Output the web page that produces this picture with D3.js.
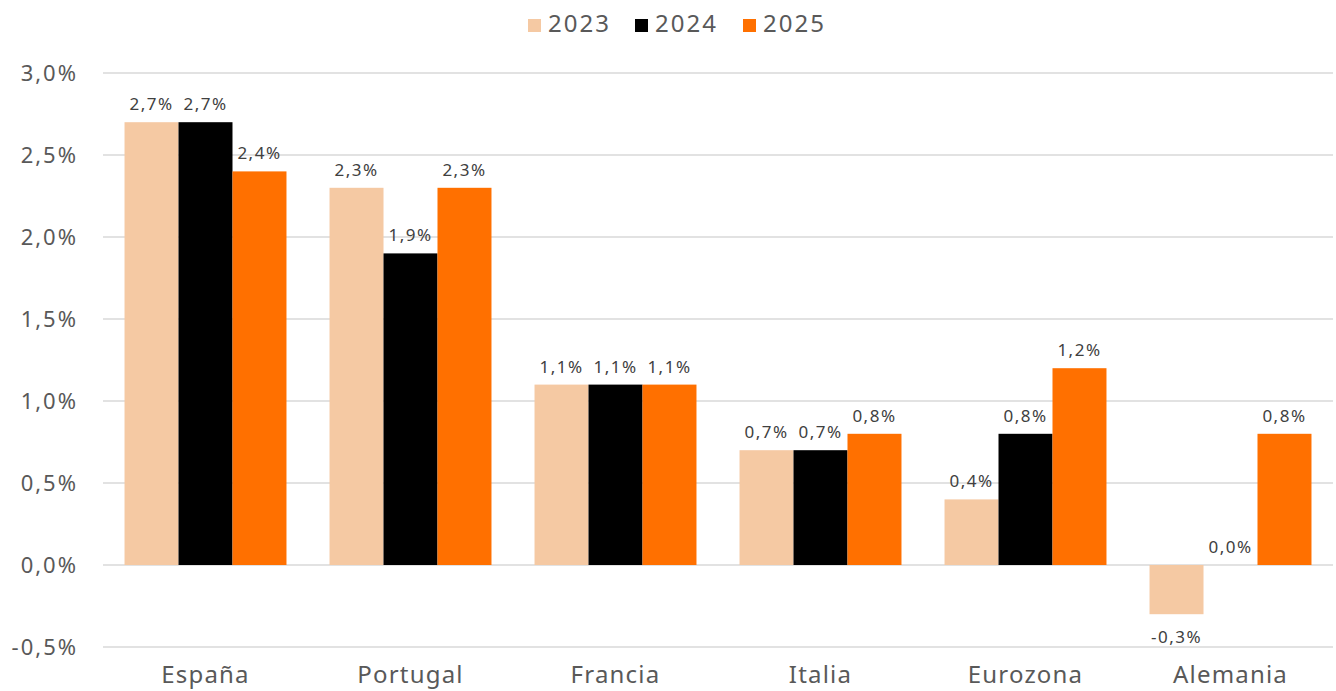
<!DOCTYPE html>
<html>
<head>
<meta charset="utf-8">
<script src="https://cdn.jsdelivr.net/npm/d3@7"></script>
<style>
  body { margin: 0; background: #fff; }
  text { font-family: "Noto Sans", sans-serif; }
</style>
</head>
<body>
<div id="container"></div>
<script>
// data
var countries = ["España", "Portugal", "Francia", "Italia", "Eurozona", "Alemania"];
var years = ["2023", "2024", "2025"];
var values2023 = [2.7, 2.3, 1.1, 0.7, 0.4, -0.3];
var values2024 = [2.7, 1.9, 1.1, 0.7, 0.8, 0.0];
var values2025 = [2.4, 2.3, 1.1, 0.8, 1.2, 0.8];
var yTicks = [-0.5, 0, 0.5, 1, 1.5, 2, 2.5, 3];
var colors = ["#F5C9A3", "#000000", "#FF7000"];

var w = 1336, h = 691;
var plotLeft = 103, plotRight = 1333, plotTop = 73, plotBottom = 647;

var svg = d3.select("#container").append("svg")
  .attr("width", w).attr("height", h);

var series = [values2023, values2024, values2025];

var yScale = d3.scaleLinear().domain([-0.5, 3]).range([plotBottom, plotTop]);
var x0 = d3.scaleBand().domain(countries).range([plotLeft, plotRight]).paddingInner(0.21).paddingOuter(0.105);
var x1 = d3.scaleBand().domain(years).range([0, x0.bandwidth()]);

// spanish style: comma decimal, plain hyphen for minus
var fmt = d3.formatLocale({decimal: ",", thousands: ".", grouping: [3], currency: ["", "€"], minus: "-"}).format(".1f");
function pct(v) {
  return fmt(v) + "%";
}

// gridlines
svg.append("g").selectAll("line")
  .data(yTicks).enter().append("line")
  .attr("x1", plotLeft).attr("x2", plotRight)
  .attr("y1", function(d) { return yScale(d); })
  .attr("y2", function(d) { return yScale(d); })
  .attr("stroke", "#D9D9D9").attr("stroke-width", 1.5);

// y tick labels
svg.append("g").selectAll("text")
  .data(yTicks).enter().append("text")
  .attr("x", 78)
  .attr("y", function(d) { return yScale(d) + 8; })
  .attr("text-anchor", "end")
  .attr("font-size", "22px")
  .attr("letter-spacing", "2px")
  .attr("fill", "#595959")
  .text(pct);

// bars
var groups = svg.append("g").selectAll("g")
  .data(countries).enter().append("g")
  .attr("transform", function(d) { return "translate(" + x0(d) + ",0)"; });

function rows(d, i) {
  return years.map(function(y, j) { return {year: y, v: series[j][i], j: j}; });
}

groups.selectAll("rect")
  .data(rows)
  .enter().append("rect")
  .attr("x", function(d) { return x1(d.year); })
  .attr("width", x1.bandwidth())
  .attr("y", function(d) { return yScale(Math.max(0, d.v)); })
  .attr("height", function(d) { return Math.abs(yScale(d.v) - yScale(0)); })
  .attr("fill", function(d) { return colors[d.j]; });

groups.selectAll("text")
  .data(rows)
  .enter().append("text")
  .attr("x", function(d) { return x1(d.year) + x1.bandwidth() / 2; })
  .attr("y", function(d) { return d.v < 0 ? yScale(d.v) + 29 : yScale(d.v) - 12; })
  .attr("text-anchor", "middle")
  .attr("font-size", "17px")
  .attr("letter-spacing", "1.5px")
  .attr("fill", "#404040")
  .text(function(d) { return pct(d.v); });

// category labels
svg.append("g").selectAll("text")
  .data(countries).enter().append("text")
  .attr("x", function(d) { return x0(d) + x0.bandwidth() / 2; })
  .attr("y", 683)
  .attr("text-anchor", "middle")
  .attr("font-size", "24px")
  .attr("letter-spacing", "1.2px")
  .attr("fill", "#595959")
  .text(function(d) { return d; });

// legend
var legendX = [528, 635, 743];
var legend = svg.append("g").selectAll("g")
  .data(years).enter().append("g")
  .attr("transform", function(d, i) { return "translate(" + legendX[i] + ",19)"; });
legend.append("rect")
  .attr("width", 13).attr("height", 13)
  .attr("fill", function(d, i) { return colors[i]; });
legend.append("text")
  .attr("x", 20).attr("y", 13)
  .attr("font-size", "24px")
  .attr("letter-spacing", "2px")
  .attr("fill", "#595959")
  .text(function(d) { return d; });
</script>
</body>
</html>
